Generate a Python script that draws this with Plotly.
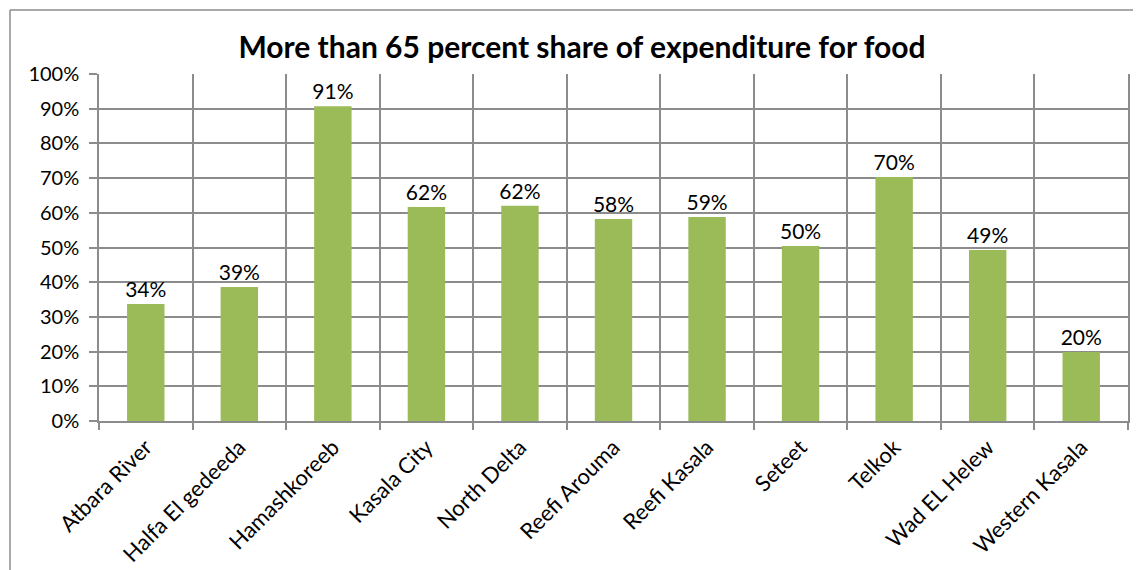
import plotly.graph_objects as go

categories = ["Atbara River", "Halfa El gedeeda", "Hamashkoreeb", "Kasala City", "North Delta",
              "Reefi Arouma", "Reefi Kasala", "Seteet", "Telkok", "Wad EL Helew", "Western Kasala"]
values = [0.337, 0.386, 0.907, 0.617, 0.62, 0.582, 0.588, 0.504, 0.703, 0.493, 0.199]
y_ticks = [i / 10 for i in range(11)]

# page body has an 8px margin, so the figure is drawn 8px right/down
OFF = 8
W, H = 1141 - OFF, 570 - OFF
ml, mt = 99 - OFF, 74 - OFF
mr = W - (1128 - OFF)
mb = H - (421 - OFF)
pw, ph = W - ml - mr, H - mt - mb

fig = go.Figure(go.Bar(
    x=categories, y=values,
    marker=dict(color="#9BBB59", line=dict(width=0)),
    texttemplate="%{y:.0%}", textposition="outside", cliponaxis=False,
    constraintext="none",
    textfont=dict(family="Lato", size=21, color="black"),
    width=0.4,
))

grid = "#8c8c8c"
fig.update_layout(
    width=W, height=H,
    margin=dict(l=ml, r=mr, t=mt, b=mb, autoexpand=False),
    paper_bgcolor="white", plot_bgcolor="white",
    font=dict(family="Lato", color="black"),
    title=dict(text="<b>More than 65 percent share of expenditure for food</b>",
               x=(582 - OFF) / W, xanchor="center", y=1 - (47 - OFF) / H, yanchor="middle",
               font=dict(family="Lato", size=30, color="black")),
    showlegend=False,
    xaxis=dict(type="category", tickson="boundaries", showgrid=True, gridcolor=grid, gridwidth=1.5,
               showline=True, linecolor=grid, linewidth=1.5, mirror=False, automargin=False,
               ticks="outside", ticklen=7, tickcolor=grid, tickwidth=1.5, ticklabelstandoff=3,
               tickangle=-45, tickfont=dict(family="Lato", size=22, color="black")),
    yaxis=dict(range=[0, 1], tickvals=y_ticks, tickformat=".0%", showgrid=True, gridcolor=grid,
               gridwidth=1.5, showline=True, linecolor=grid, linewidth=1.5, mirror=True,
               automargin=False, ticklabelstandoff=6,
               ticks="outside", ticklen=8, tickcolor=grid, tickwidth=1.5, zeroline=False,
               tickfont=dict(family="Lato", size=20, color="black")),
    shapes=[
        dict(type="line", xref="paper", yref="paper", x0=(10 - 99) / pw, x1=(W + 20 - ml) / pw,
             y0=(421 - 10) / ph, y1=(421 - 10) / ph, line=dict(color=grid, width=1.5)),
        dict(type="line", xref="paper", yref="paper", x0=(10 - 99) / pw, x1=(10 - 99) / pw,
             y0=(421 - 10) / ph, y1=-(mb + 20) / ph, line=dict(color=grid, width=1.5)),
    ],
)
fig.write_html("out.html")
